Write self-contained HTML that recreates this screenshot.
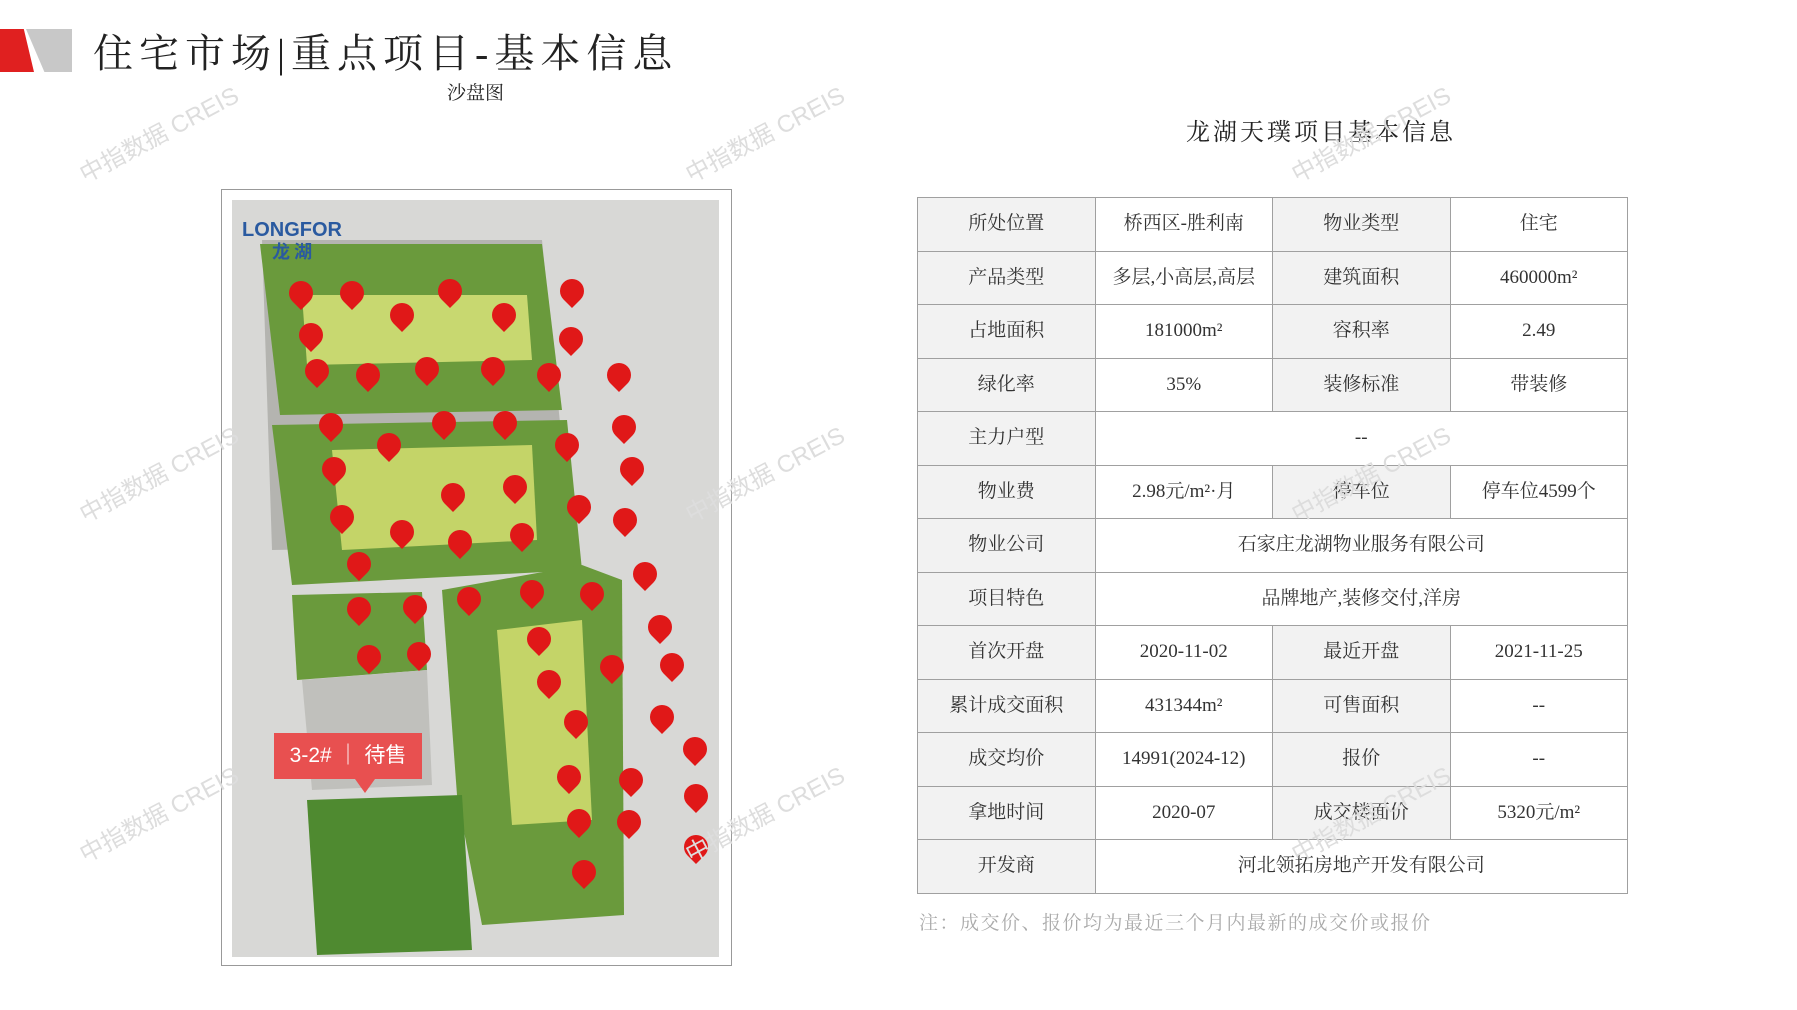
<!DOCTYPE html>
<html><head><meta charset="utf-8"><style>
body{margin:0;width:1797px;height:1010px;background:#fff;position:relative;overflow:hidden;font-family:"Liberation Serif","Noto Serif CJK SC",serif;}
.abs{position:absolute}
table{position:absolute;left:917px;top:197px;border-collapse:collapse;width:711px;table-layout:fixed}
td{border:1.5px solid #a0a0a0;height:52.5px;text-align:center;font-size:19px;color:#333;padding:0;line-height:22px}
td.h{background:#f2f2f2}
.wm{position:absolute;color:#ddd;font-family:"Liberation Sans","Noto Sans CJK SC",sans-serif;font-size:24px;transform:rotate(-28deg);white-space:nowrap}
.pin{position:absolute;width:24px;height:24px;border-radius:50% 50% 50% 0;transform:rotate(-45deg);background:#e01818}
</style></head><body>
<div class="abs" style="left:0;top:29px;width:34px;height:43px;background:#e02020;clip-path:polygon(0 0,70% 0,100% 100%,0 100%)"></div>
<div class="abs" style="left:26px;top:29px;width:46px;height:43px;background:#c8c8c8;clip-path:polygon(0 0,100% 0,100% 100%,40% 100%)"></div>
<div class="abs" style="left:93px;top:22px;font-size:40px;letter-spacing:6px;color:#222;white-space:nowrap">住宅市场|重点项目-基本信息</div>
<div class="abs" style="left:447px;top:78px;font-size:19px;color:#222">沙盘图</div>
<div class="abs" style="left:1186px;top:112px;font-size:24px;color:#222;letter-spacing:3px">龙湖天璞项目基本信息</div>

<div class="abs" style="left:221px;top:189px;width:509px;height:775px;border:1.5px solid #999"></div>
<div class="abs" style="left:232px;top:200px;width:487px;height:757px;background:#d8d8d6"></div>
<svg class="abs" style="left:232px;top:200px" width="487" height="757">
<polygon points="30,40 310,40 340,345 40,350" fill="#b4b4b0"/>
<polygon points="28,44 310,44 330,210 48,215" fill="#6a9a3c"/>
<polygon points="70,95 295,95 300,160 75,165" fill="#c8d870"/>
<polygon points="40,225 335,220 350,370 60,385" fill="#6a9a3c"/>
<polygon points="100,250 300,245 305,340 110,350" fill="#c4d468"/>
<polygon points="60,395 190,392 195,470 65,480" fill="#6a9a3c"/>
<polygon points="70,480 195,470 200,585 80,590" fill="#c0c0bc"/>
<polygon points="210,390 350,365 390,380 392,715 250,725 225,595" fill="#6a9a3c"/>
<polygon points="265,430 350,420 360,620 280,625" fill="#c4d468"/>
<polygon points="75,600 230,595 240,750 85,755" fill="#4f8a30"/>
<text x="10" y="36" font-family="Liberation Sans" font-size="20" fill="#2a5aa0" font-weight="bold">LONGFOR</text>
<text x="40" y="58" font-family="Noto Sans CJK SC" font-size="18" fill="#2a5aa0" font-weight="bold">龙 湖</text>
</svg>
<div style="position:absolute;left:-3px;top:-3px">
<div class="pin" style="left:292px;top:284px"></div><div class="pin" style="left:343px;top:284px"></div><div class="pin" style="left:441px;top:282px"></div><div class="pin" style="left:563px;top:282px"></div>
<div class="pin" style="left:393px;top:306px"></div><div class="pin" style="left:495px;top:306px"></div><div class="pin" style="left:302px;top:326px"></div><div class="pin" style="left:562px;top:330px"></div>
<div class="pin" style="left:308px;top:362px"></div><div class="pin" style="left:359px;top:366px"></div><div class="pin" style="left:418px;top:360px"></div><div class="pin" style="left:484px;top:360px"></div><div class="pin" style="left:540px;top:366px"></div><div class="pin" style="left:610px;top:366px"></div>
<div class="pin" style="left:322px;top:416px"></div><div class="pin" style="left:435px;top:414px"></div><div class="pin" style="left:496px;top:414px"></div><div class="pin" style="left:615px;top:418px"></div>
<div class="pin" style="left:380px;top:436px"></div><div class="pin" style="left:558px;top:436px"></div><div class="pin" style="left:325px;top:460px"></div><div class="pin" style="left:623px;top:460px"></div>
<div class="pin" style="left:444px;top:486px"></div><div class="pin" style="left:506px;top:478px"></div><div class="pin" style="left:570px;top:498px"></div><div class="pin" style="left:333px;top:508px"></div>
<div class="pin" style="left:393px;top:523px"></div><div class="pin" style="left:451px;top:533px"></div><div class="pin" style="left:513px;top:526px"></div><div class="pin" style="left:616px;top:511px"></div>
<div class="pin" style="left:350px;top:555px"></div><div class="pin" style="left:636px;top:565px"></div><div class="pin" style="left:523px;top:583px"></div><div class="pin" style="left:583px;top:585px"></div>
<div class="pin" style="left:350px;top:600px"></div><div class="pin" style="left:406px;top:598px"></div><div class="pin" style="left:460px;top:590px"></div><div class="pin" style="left:530px;top:630px"></div>
<div class="pin" style="left:651px;top:618px"></div><div class="pin" style="left:360px;top:648px"></div><div class="pin" style="left:410px;top:645px"></div><div class="pin" style="left:663px;top:656px"></div>
<div class="pin" style="left:540px;top:673px"></div><div class="pin" style="left:603px;top:658px"></div><div class="pin" style="left:653px;top:708px"></div><div class="pin" style="left:567px;top:713px"></div>
<div class="pin" style="left:686px;top:740px"></div><div class="pin" style="left:560px;top:768px"></div><div class="pin" style="left:622px;top:771px"></div><div class="pin" style="left:687px;top:787px"></div>
<div class="pin" style="left:570px;top:812px"></div><div class="pin" style="left:620px;top:813px"></div><div class="pin" style="left:687px;top:838px"></div><div class="pin" style="left:575px;top:863px"></div>
<div class="abs" style="left:277px;top:736px;width:148px;height:46px;background:#e85050;color:#fff;font-size:21px;line-height:46px;text-align:center;font-family:'Liberation Sans','Noto Sans CJK SC',sans-serif">3-2# ｜ 待售</div>
<div class="abs" style="left:358px;top:782px;width:0;height:0;border-left:10px solid transparent;border-right:10px solid transparent;border-top:14px solid #e85050"></div>
</div>

<table>
<tr><td class="h">所处位置</td><td>桥西区-胜利南</td><td class="h">物业类型</td><td>住宅</td></tr>
<tr><td class="h">产品类型</td><td>多层,小高层,高层</td><td class="h">建筑面积</td><td>460000m²</td></tr>
<tr><td class="h">占地面积</td><td>181000m²</td><td class="h">容积率</td><td>2.49</td></tr>
<tr><td class="h">绿化率</td><td>35%</td><td class="h">装修标准</td><td>带装修</td></tr>
<tr><td class="h">主力户型</td><td colspan="3">--</td></tr>
<tr><td class="h">物业费</td><td>2.98元/m²·月</td><td class="h">停车位</td><td>停车位4599个</td></tr>
<tr><td class="h">物业公司</td><td colspan="3">石家庄龙湖物业服务有限公司</td></tr>
<tr><td class="h">项目特色</td><td colspan="3">品牌地产,装修交付,洋房</td></tr>
<tr><td class="h">首次开盘</td><td>2020-11-02</td><td class="h">最近开盘</td><td>2021-11-25</td></tr>
<tr><td class="h">累计成交面积</td><td>431344m²</td><td class="h">可售面积</td><td>--</td></tr>
<tr><td class="h">成交均价</td><td>14991(2024-12)</td><td class="h">报价</td><td>--</td></tr>
<tr><td class="h">拿地时间</td><td>2020-07</td><td class="h">成交楼面价</td><td>5320元/m²</td></tr>
<tr><td class="h">开发商</td><td colspan="3">河北领拓房地产开发有限公司</td></tr>
</table>
<div class="abs" style="left:919px;top:908px;font-size:19px;color:#aaa;letter-spacing:1.5px">注：成交价、报价均为最近三个月内最新的成交价或报价</div>

<div class="wm" style="left:70px;top:115px">中指数据 CREIS</div>
<div class="wm" style="left:676px;top:115px">中指数据 CREIS</div>
<div class="wm" style="left:1282px;top:115px">中指数据 CREIS</div>
<div class="wm" style="left:70px;top:455px">中指数据 CREIS</div>
<div class="wm" style="left:676px;top:455px">中指数据 CREIS</div>
<div class="wm" style="left:1282px;top:455px">中指数据 CREIS</div>
<div class="wm" style="left:70px;top:795px">中指数据 CREIS</div>
<div class="wm" style="left:676px;top:795px">中指数据 CREIS</div>
<div class="wm" style="left:1282px;top:795px">中指数据 CREIS</div>
</body></html>
